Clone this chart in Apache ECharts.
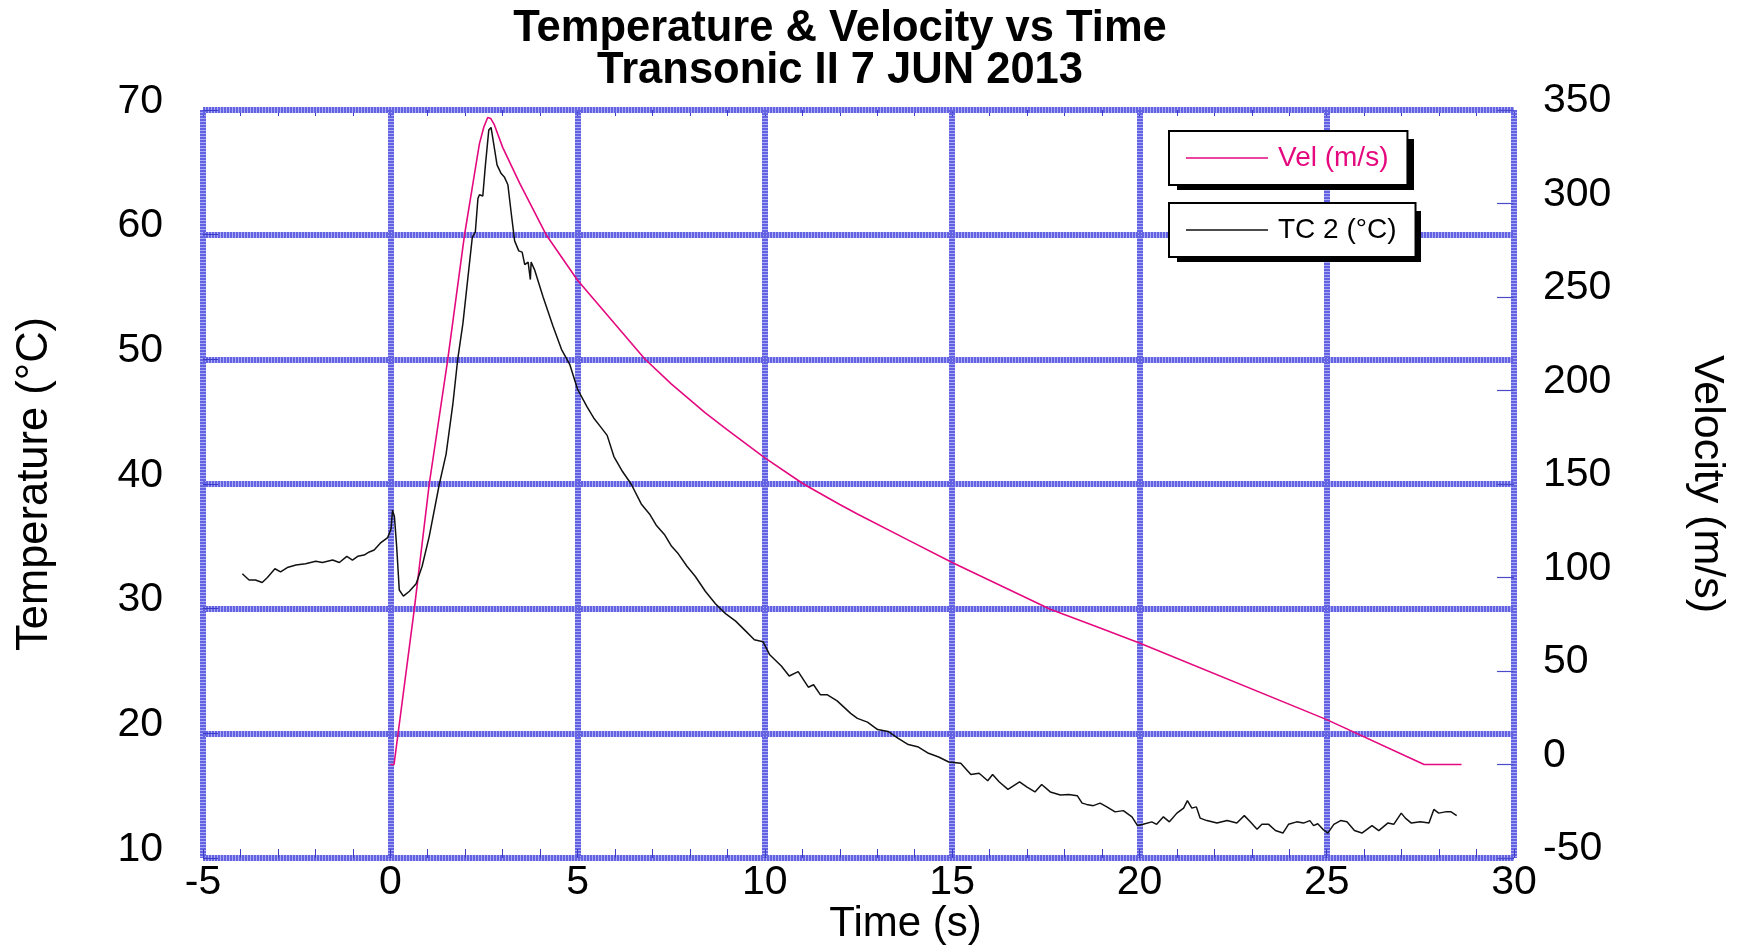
<!DOCTYPE html>
<html>
<head>
<meta charset="utf-8">
<title>Temperature & Velocity vs Time</title>
<script src="https://cdn.jsdelivr.net/npm/echarts@6/dist/echarts.min.js"></script>
<style>
  html, body { margin: 0; padding: 0; background: #fff; }
  #chart { width: 1743px; height: 945px; }
</style>
</head>
<body>
<div id="chart"></div>
<script>
// velocity (m/s) vs time (s)
var velTime  = [0, 0.1, 0.64, 1.04, 1.53, 1.98, 2.38, 2.5, 2.6, 2.68, 2.78, 3.0, 3.45, 3.81, 4.17, 5.0, 6.79, 7.5, 8.41, 9.0, 10, 11.03, 12.0, 12.47, 13.83, 15, 17.62, 18.95, 20, 25, 27.6, 28.6];
var velValue = [0, 0, 83, 150, 216, 283, 332, 341, 346, 345.5, 342, 330, 311, 297, 283, 259, 217, 203.5, 188, 179, 164, 150, 139, 134, 120, 108, 83, 73, 65, 24, 0, 0];

// thermocouple 2 (°C) vs time (s)
var tcTime = [-3.95, -3.77, -3.6, -3.42, -3.28, -3.08, -2.93, -2.75, -2.52, -2.26, -1.99, -1.81, -1.54, -1.36, -1.16, -1.01, -0.87, -0.7, -0.56, -0.43, -0.25, -0.07,
  0.02, 0.06, 0.11, 0.17, 0.24, 0.35, 0.51, 0.69, 0.85, 1.04, 1.31, 1.49, 1.67, 1.8, 1.94, 2.07, 2.19, 2.27, 2.34, 2.38, 2.47, 2.54, 2.63, 2.69, 2.76, 2.85, 2.96,
  3.05, 3.14, 3.23, 3.32, 3.43, 3.52, 3.59, 3.68, 3.74, 3.76, 3.85, 4.08, 4.34, 4.57, 4.79, 5.0, 5.25, 5.43, 5.61, 5.79, 5.97, 6.2, 6.43, 6.7, 6.92,
  7.1, 7.33, 7.51, 7.69, 7.92, 8.14, 8.41, 8.68, 8.95, 9.22, 9.49, 9.72, 9.95, 10.13, 10.44, 10.65, 10.89, 11.16, 11.3, 11.48, 11.66, 11.93, 12.11,
  12.29, 12.47, 12.74, 13.01, 13.29, 13.56, 13.83, 14.1, 14.37, 14.64, 14.91, 15.23, 15.5, 15.72, 15.95, 16.08, 16.26, 16.49, 16.8, 16.99, 17.21,
  17.39, 17.62, 17.89, 18.11, 18.34, 18.47, 18.59, 18.77, 18.95, 19.13, 19.35, 19.57, 19.8, 19.95, 20.1, 20.33, 20.46, 20.64, 20.8, 21.0, 21.18,
  21.28, 21.4, 21.52, 21.62, 21.8, 22.07, 22.34, 22.6, 22.8, 22.96, 23.14, 23.27, 23.45, 23.63, 23.83, 23.98, 24.2, 24.38, 24.55, 24.65, 24.76,
  24.9, 25.03, 25.19, 25.37, 25.54, 25.74, 25.94, 26.21, 26.39, 26.63, 26.79, 26.99, 27.1, 27.26, 27.5, 27.73, 27.86, 27.99, 28.17, 28.32, 28.47];
var tcValue = [32.8, 32.3, 32.3, 32.1, 32.5, 33.2, 32.95, 33.3, 33.5, 33.6, 33.8, 33.7, 33.9, 33.7, 34.2, 33.9, 34.2, 34.3, 34.55, 34.7, 35.3, 35.7,
  36.4, 37.9, 37.4, 35.0, 31.5, 31.0, 31.4, 32.0, 33.4, 35.8, 40, 42.4, 46.4, 50, 52.9, 56.5, 59.8, 60.2, 62.9, 63.2, 63.1, 65.6, 68.4, 68.6, 67.3, 65.6, 64.9,
  64.6, 64.0, 61.7, 59.5, 58.7, 58.6, 57.6, 57.8, 56.4, 57.8, 57.2, 55.0, 52.7, 50.8, 49.6, 47.6, 46.2, 45.3, 44.6, 43.9, 42.2, 41.0, 40.0, 38.4, 37.6,
  36.7, 35.9, 35.0, 34.4, 33.4, 32.6, 31.4, 30.4, 29.6, 29.0, 28.2, 27.5, 27.35, 26.3, 25.4, 24.6, 24.95, 23.7, 23.9, 23.1, 23.1, 22.6, 22.1,
  21.6, 21.2, 20.9, 20.3, 20.15, 19.6, 19.1, 18.9, 18.4, 18.1, 17.7, 17.6, 16.7, 16.8, 16.2, 16.7, 16.1, 15.5, 16.1, 15.7, 15.3,
  15.9, 15.3, 15.05, 15.1, 15.0, 14.4, 14.3, 14.2, 14.4, 14.1, 13.7, 13.8, 13.3, 12.6, 12.7, 12.9, 12.7, 13.3, 12.9, 13.6, 14.0,
  14.6, 14.0, 14.1, 13.2, 13.0, 12.8, 13.0, 12.8, 13.4, 12.9, 12.3, 12.7, 12.7, 12.2, 12.0, 12.7, 12.9, 12.8, 13.0, 12.6, 12.75,
  12.3, 12.0, 12.7, 13.0, 12.9, 12.2, 12.0, 12.6, 12.2, 12.8, 12.7, 13.6, 13.2, 12.8, 12.9, 12.8, 13.9, 13.6, 13.7, 13.7, 13.4];

var seriesNames = ['Vel (m/s)', 'TC 2 (°C)'];
var titleText = 'Temperature & Velocity vs Time\nTransonic II 7 JUN 2013';

function zip(xs, ys) {
  var out = [];
  for (var i = 0; i < xs.length; i++) out.push([xs[i], ys[i]]);
  return out;
}

var FONT = '"Liberation Sans", Arial, Helvetica, sans-serif';
var gridDark = { color: '#6262e2', width: 6, type: [2, 1] };
var gridLight = { color: '#acacf2', width: 6 };
var tickStyle = { color: '#3c3cc8', width: 1 };

var myChart = echarts.init(document.getElementById('chart'));

function boxLegend(name, top, textColor) {
  return {
    left: 1169,
    top: top,
    orient: 'vertical',
    selectedMode: false,
    z: 5,
    data: [{ name: name, textStyle: { color: textColor } }],
    icon: 'rect',
    itemWidth: 82,
    itemHeight: 1.5,
    padding: [13, 19, 13, 17],
    backgroundColor: '#fff',
    borderColor: '#000',
    borderWidth: 2,
    borderRadius: 0,
    textStyle: { fontSize: 28, fontFamily: FONT, color: textColor, padding: [0, 0, 0, 5] }
  };
}

// drop shadows behind the two legend boxes
function boxShadow(x, y, w, h) {
  return { type: 'rect', left: x, top: y, z: 4, shape: { width: w, height: h }, style: { fill: '#000' } };
}

var option = {
  backgroundColor: '#fff',
  animation: false,
  title: {
    text: titleText,
    left: 835,
    top: 3,
    textAlign: 'center',
    textStyle: { fontSize: 43.5, fontWeight: 'bold', lineHeight: 42, fontFamily: FONT, color: '#000' }
  },
  legend: [
    boxLegend(seriesNames[0], 131, '#e5097f'),
    boxLegend(seriesNames[1], 203, '#000')
  ],
  graphic: [
    boxShadow(1177, 139, 237, 51),
    boxShadow(1177, 211, 244, 51)
  ],
  grid: { left: 203, right: 229, top: 110, bottom: 87, containLabel: false, outerBoundsMode: 'none' },
  xAxis: [{
    type: 'value',
    position: 'bottom',
    min: -5, max: 30, interval: 5,
    z: 1,
    name: 'Time (s)',
    nameLocation: 'middle',
    nameGap: 45,
    nameMoveOverlap: false,
    nameTextStyle: { fontSize: 42, fontFamily: FONT, color: '#000', padding: [0, 0, 0, 94] },
    axisLine: { show: false, onZero: false },
    axisTick: { show: true, inside: true, length: 9, lineStyle: tickStyle },
    minorTick: { show: true, splitNumber: 5, length: 9, lineStyle: tickStyle },
    axisLabel: { fontSize: 41, fontFamily: FONT, color: '#000', margin: 4 },
    splitLine: { show: true, lineStyle: gridDark }
  }, {
    type: 'value',
    position: 'top',
    min: -5, max: 30, interval: 5,
    z: 0,
    axisLine: { show: false, onZero: false },
    axisLabel: { show: false },
    axisTick: { show: true, inside: true, length: 6, lineStyle: tickStyle },
    minorTick: { show: true, splitNumber: 5, length: 6, lineStyle: tickStyle },
    splitLine: { show: true, lineStyle: gridLight }
  }],
  yAxis: [{
    type: 'value',
    position: 'left',
    min: 10, max: 70, interval: 10,
    z: 1,
    name: 'Temperature (°C)',
    nameLocation: 'middle',
    nameGap: 146,
    nameTextStyle: { fontSize: 43.5, fontFamily: FONT, color: '#000' },
    axisLine: { show: false, onZero: false },
    axisTick: { show: true, inside: true, length: 15, lineStyle: tickStyle },
    axisLabel: { fontSize: 41, fontFamily: FONT, color: '#000', margin: 40, verticalAlign: 'bottom', lineHeight: 17 },
    splitLine: { show: true, lineStyle: gridDark }
  }, {
    type: 'value',
    position: 'right',
    min: -50, max: 350, interval: 50,
    z: 1,
    name: 'Velocity (m/s)',
    nameLocation: 'middle',
    nameRotate: -90,
    nameGap: 171,
    nameTextStyle: { fontSize: 43, fontFamily: FONT, color: '#000' },
    axisLine: { show: false, onZero: false },
    axisTick: { show: true, inside: true, length: 17, lineStyle: { color: '#4a4acc', width: 1.2 } },
    axisLabel: { fontSize: 41, fontFamily: FONT, color: '#000', margin: 29, verticalAlign: 'bottom', lineHeight: 18 },
    splitLine: { show: false }
  }, {
    type: 'value',
    position: 'left',
    min: 10, max: 70, interval: 10,
    z: 0,
    axisLine: { show: false, onZero: false },
    axisTick: { show: false },
    axisLabel: { show: false },
    splitLine: { show: true, lineStyle: gridLight }
  }],
  series: [{
    name: seriesNames[0],
    type: 'line',
    xAxisIndex: 0,
    yAxisIndex: 1,
    data: zip(velTime, velValue),
    showSymbol: false,
    symbol: 'none',
    lineStyle: { color: '#e5097f', width: 1.6 },
    itemStyle: { color: '#e5097f' }
  }, {
    name: seriesNames[1],
    type: 'line',
    xAxisIndex: 0,
    yAxisIndex: 0,
    data: zip(tcTime, tcValue),
    showSymbol: false,
    symbol: 'none',
    lineStyle: { color: '#111', width: 1.5 },
    itemStyle: { color: '#111' }
  }]
};
myChart.setOption(option, true);
</script>
</body>
</html>
